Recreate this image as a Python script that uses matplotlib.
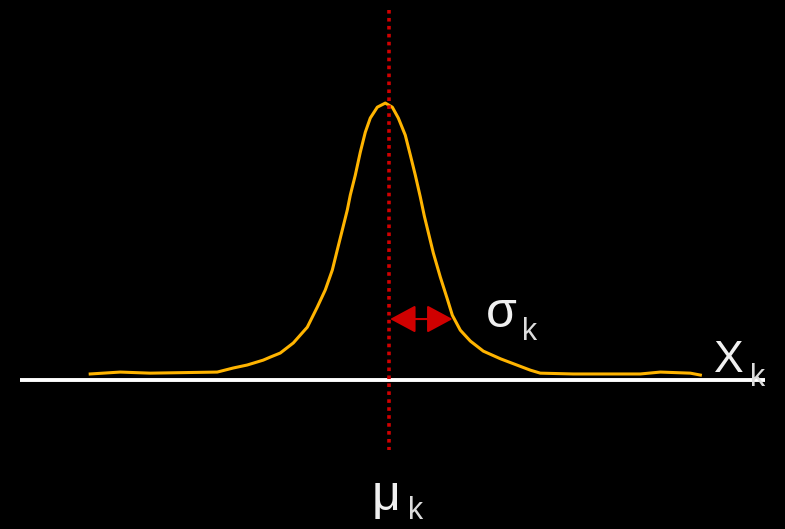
"""Gaussian-like peak with mean and width annotations on a black background."""
import matplotlib
matplotlib.use("Agg")
import matplotlib.pyplot as plt

# curve: x in units of sigma (0 = mean), y normalised to the peak
curve_x = [-4.967, -4.467, -3.967, -2.85, -2.583, -2.35, -2.083, -1.967, -1.8, -1.583,
           -1.35, -1.183, -1.05, -0.933, -0.85, -0.767, -0.683, -0.633, -0.55, -0.467,
           -0.383, -0.3, -0.183, -0.05, 0.067, 0.167, 0.283, 0.367, 0.45, 0.533,
           0.6, 0.75, 0.867, 0.983, 1.067, 1.2, 1.367, 1.583, 1.867,
           2.033, 2.367, 2.533, 3.083, 4.2, 4.533, 5.033, 5.2]
curve_y = [0.004, 0.011, 0.007, 0.011, 0.026, 0.037, 0.055, 0.066, 0.081, 0.118,
           0.176, 0.250, 0.313, 0.386, 0.460, 0.533, 0.607, 0.662, 0.735, 0.819,
           0.893, 0.945, 0.985, 1.0, 0.985, 0.945, 0.882, 0.809, 0.735, 0.655,
           0.585, 0.449, 0.360, 0.280, 0.220, 0.165, 0.125, 0.088, 0.060,
           0.046, 0.018, 0.007, 0.004, 0.004, 0.011, 0.007, 0.0]

mu = 0.0
sigma = 1.0
axis_start, axis_end = -6.13, 6.28
axis_level = -0.017
arrow_level = 0.206

CURVE_COLOR = "#FFB400"
RED = "#D00000"
TEXT_COLOR = "#F0F0F0"
SUB_COLOR = "#DDDDDD"
FONT = "Liberation Sans"

fig = plt.figure(figsize=(7.85, 5.29), dpi=100, facecolor="black")
ax = fig.add_axes([0, 0, 1, 1])
ax.set_facecolor("black")
ax.set_xlim(-6.47, 6.61)
ax.set_ylim(-0.566, 1.379)
ax.set_axis_off()

# x axis
ax.plot([axis_start, axis_end], [axis_level, axis_level], color="white", lw=2.8,
        solid_capstyle="butt", zorder=2)

# the peak
ax.plot(curve_x, curve_y, color=CURVE_COLOR, lw=2.2, zorder=3)

# mean marker
ax.plot([mu + 0.02, mu + 0.02], [1.342, -0.276], color=RED, lw=2.6,
        linestyle=(0, (1, 1.2)), zorder=4)

# width arrow
ax.annotate("", xy=(mu + 1.07 * sigma, arrow_level), xytext=(mu + 0.03, arrow_level),
            arrowprops=dict(arrowstyle="<|-|>,head_length=0.8,head_width=0.43",
                            mutation_scale=20, color=RED, lw=1.5,
                            shrinkA=0, shrinkB=0),
            zorder=5)

# labels
ax.text(1.63, 0.176, "σ", color=TEXT_COLOR, fontsize=36, family=FONT, va="baseline")
ax.text(2.23, 0.129, "k", color=SUB_COLOR, fontsize=22, family=FONT, va="baseline")
ax.text(5.43, 0.011, "X", color=TEXT_COLOR, fontsize=32, family=FONT, va="baseline")
ax.text(6.02, -0.040, "k", color=SUB_COLOR, fontsize=22, family=FONT, va="baseline")
ax.text(-0.27, -0.496, "μ", color=TEXT_COLOR, fontsize=36, family=FONT, va="baseline")
ax.text(0.33, -0.53, "k", color=SUB_COLOR, fontsize=22, family=FONT, va="baseline")

fig.savefig("out.png", dpi=100, facecolor="black")
